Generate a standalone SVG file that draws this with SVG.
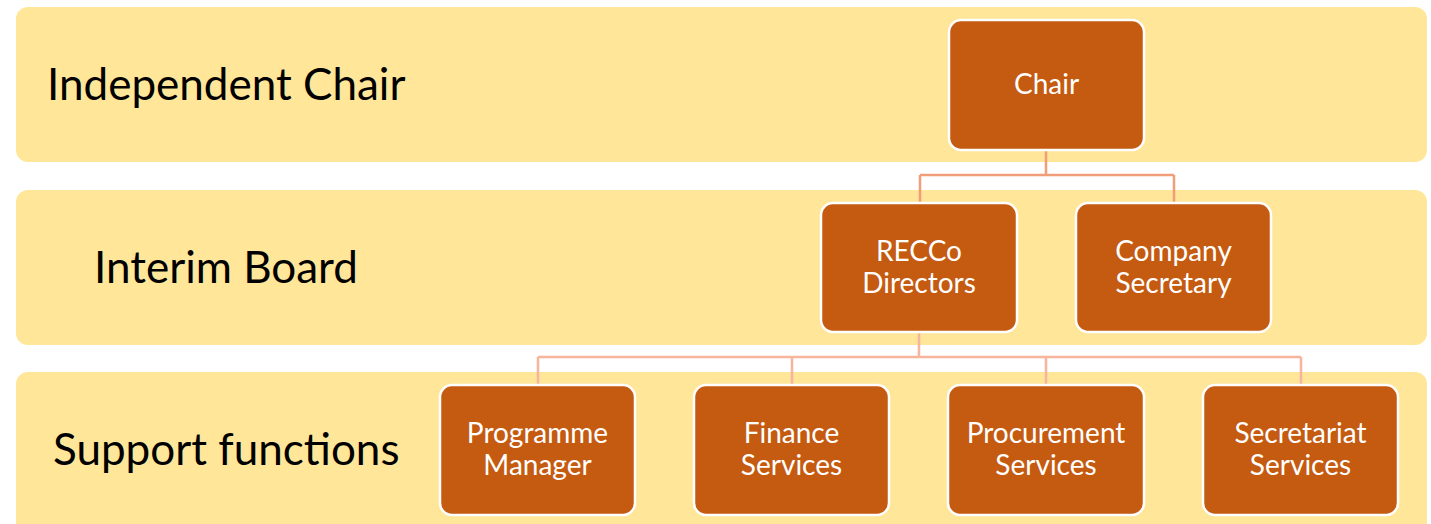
<svg xmlns="http://www.w3.org/2000/svg" width="1431" height="524" viewBox="0 0 1431 524">
  <style>
    .band { fill: #FFE699; }
    .band-label { font-family: Lato, "Open Sans", sans-serif; font-size: 44px; fill: #000000; }
    .box { fill: #C55A11; stroke: #FFFFFF; stroke-width: 2.5; }
    .box-text { font-family: Lato, "Open Sans", sans-serif; font-size: 28px; fill: #FFFFFF; text-anchor: middle; }
    .link-top { fill: none; stroke: #F09E78; stroke-width: 2.5; }
    .link-low { fill: none; stroke: #F6B59C; stroke-width: 2.5; }
  </style>

  <!-- horizontal tiers -->
  <g id="tier-independent-chair">
    <rect class="band" x="16" y="7" width="1411" height="155" rx="12"/>
    <text class="band-label" x="47" y="100">Independent Chair</text>
  </g>
  <g id="tier-interim-board">
    <rect class="band" x="16" y="190" width="1411" height="155" rx="12"/>
    <text class="band-label" x="94" y="283">Interim Board</text>
  </g>
  <g id="tier-support-functions">
    <rect class="band" x="16" y="372" width="1411" height="170" rx="12"/>
    <text class="band-label" x="53" y="465">Support functions</text>
  </g>

  <!-- reporting lines -->
  <g id="connectors">
    <path class="link-top" d="M1046 150 V175 M920 175 H1174 M920 175 V203 M1174 175 V203"/>
    <path class="link-low" d="M919 332 V357 M538 357 H1301 M538 357 V385 M792 357 V385 M1046 357 V385 M1301 357 V385"/>
  </g>

  <g id="node-chair">
    <rect class="box" x="949" y="20" width="195" height="130" rx="12"/>
    <text class="box-text" x="1046.5" y="94">Chair</text>
  </g>
  <g id="node-recco-directors">
    <rect class="box" x="821" y="203" width="196" height="129" rx="12"/>
    <text class="box-text" x="919" y="261">RECCo</text>
    <text class="box-text" x="919" y="293">Directors</text>
  </g>
  <g id="node-company-secretary">
    <rect class="box" x="1076" y="203" width="195" height="129" rx="12"/>
    <text class="box-text" x="1173.5" y="261">Company</text>
    <text class="box-text" x="1173.5" y="293">Secretary</text>
  </g>
  <g id="node-programme-manager">
    <rect class="box" x="440" y="385" width="195" height="130" rx="12"/>
    <text class="box-text" x="537.5" y="443">Programme</text>
    <text class="box-text" x="537.5" y="475">Manager</text>
  </g>
  <g id="node-finance-services">
    <rect class="box" x="694" y="385" width="195" height="130" rx="12"/>
    <text class="box-text" x="791.5" y="443">Finance</text>
    <text class="box-text" x="791.5" y="475">Services</text>
  </g>
  <g id="node-procurement-services">
    <rect class="box" x="948" y="385" width="196" height="130" rx="12"/>
    <text class="box-text" x="1046" y="443">Procurement</text>
    <text class="box-text" x="1046" y="475">Services</text>
  </g>
  <g id="node-secretariat-services">
    <rect class="box" x="1203" y="385" width="195" height="130" rx="12"/>
    <text class="box-text" x="1300.5" y="443">Secretariat</text>
    <text class="box-text" x="1300.5" y="475">Services</text>
  </g>
</svg>
